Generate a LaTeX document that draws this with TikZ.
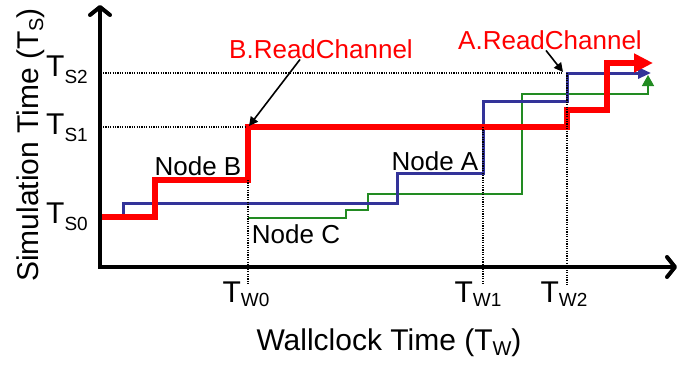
\documentclass[tikz,border=0pt]{standalone}
\usepackage{fontspec}
\setmainfont{Liberation Sans}
\usetikzlibrary{arrows.meta}

\definecolor{tracered}{RGB}{255,0,0}
\definecolor{traceblue}{RGB}{51,51,153}
\definecolor{tracegreen}{RGB}{34,139,34}

% big T with a lowered subscript
\newcommand{\Tlab}[2][7pt]{{\fontsize{30}{32}\selectfont T}{\fontsize{19}{20}\selectfont\raisebox{-#1}{#2}}}

\tikzset{
  axis/.style={line width=4pt, {Straight Barb[length=8pt,width=20pt,round]}-{Straight Barb[length=8pt,width=20pt,round]}},
  guide/.style={line width=1.4pt, dash pattern=on 1.2pt off 1.2pt},
  redtrace/.style={draw=tracered, line width=5.5pt, -{Triangle[length=19pt,width=18pt]}},
  bluetrace/.style={draw=traceblue, line width=3pt, -{Triangle[length=13pt,width=11pt]}},
  greentrace/.style={draw=tracegreen, line width=1.5pt, -{Triangle[length=11pt,width=12pt]}},
  lbl/.style={inner sep=1pt, font=\fontsize{26}{28}\selectfont},
  callout/.style={line width=1.6pt, -{Triangle[length=9pt,width=9pt]}}
}

\begin{document}
\begin{tikzpicture}[x=1pt, y=-1pt]
    \useasboundingbox (0,0) rectangle (678,368);

    % step traces
    \draw[greentrace] (248,218) -| (346,210) -| (368,194) -| (522,94) -| (648,75);
    \draw[bluetrace] (100,217) -| (123,203) -| (397,173) -| (483,101) -| (567,73) -- (651,73);
    \draw[redtrace] (100,217) -| (155,180) -| (248,127) -| (567,110) -| (607,63) -- (653,63);

    % guide lines
    \draw[guide] (103,73) -- (562,73);
    \draw[guide] (103,127) -- (245,127);
    \draw[guide] (248,180) -- (248,285);
    \draw[guide] (483,127) -- (483,285);
    \draw[guide] (567,73) -- (567,285);

    % axes
    \draw[axis] (100,5) -- (100,267) -- (677,267);

    % tick labels
    \node[inner sep=0pt, anchor=base east] (ts2) at (88,76) {\Tlab{S2}};
    \node[inner sep=0pt, anchor=base east] (ts1) at (88,134) {\Tlab{S1}};
    \node[inner sep=0pt, anchor=base east] (ts0) at (88,223) {\Tlab{S0}};
    \node[inner sep=0pt, anchor=base] (tw0) at (246,302) {\Tlab[4pt]{W0}};
    \node[inner sep=0pt, anchor=base] (tw1) at (478,302) {\Tlab[4pt]{W1}};
    \node[inner sep=0pt, anchor=base] (tw2) at (564,302) {\Tlab[4pt]{W2}};

    % axis titles
    \node[inner sep=0pt, anchor=base, font=\fontsize{30}{32}\selectfont] (xlabel) at (389,350)
        {Wallclock Time (T{\fontsize{20}{22}\selectfont\raisebox{-5pt}{W}})};
    \node[inner sep=0pt, anchor=base, rotate=90, font=\fontsize{30}{32}\selectfont] (ylabel) at (38,145)
        {Simulation Time (T{\fontsize{20}{22}\selectfont\raisebox{-5pt}{S}})};

    % trace labels
    \node[lbl, anchor=base] (nodeb) at (198,175) {Node B};
    \node[lbl, anchor=base] (nodea) at (435,170) {Node A};
    \node[lbl, anchor=base] (nodec) at (296,243) {Node C};
    \node[lbl, anchor=base, text=tracered] (bread) at (321,58) {B.ReadChannel};
    \node[lbl, anchor=base, text=tracered] (aread) at (550,49) {A.ReadChannel};

    \coordinate (bhit) at (249,126);
    \coordinate (ahit) at (563,72);
    \draw[callout] ([xshift=-21pt]bread.south) -- (bhit);
    \draw[callout] ([xshift=-4pt]aread.south) -- (ahit);
\end{tikzpicture}
\end{document}
